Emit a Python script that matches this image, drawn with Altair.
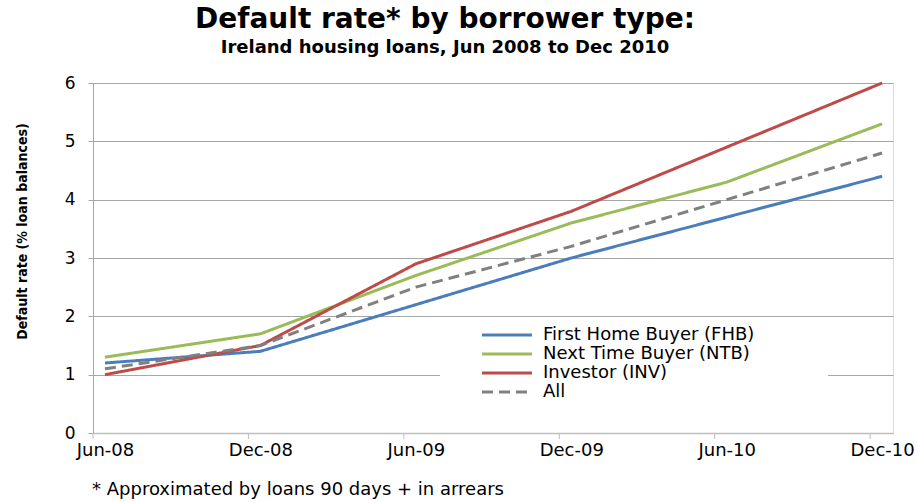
import altair as alt
import pandas as pd

periods = ["Jun-08", "Dec-08", "Jun-09", "Dec-09", "Jun-10", "Dec-10"]
fhb = [1.2, 1.4, 2.2, 3.0, 3.7, 4.4]
ntb = [1.3, 1.7, 2.7, 3.6, 4.3, 5.3]
inv = [1.0, 1.5, 2.9, 3.8, 4.9, 6.0]
all_loans = [1.1, 1.5, 2.5, 3.2, 4.0, 4.8]
series = ["First Home Buyer (FHB)", "Next Time Buyer (NTB)", "Investor (INV)", "All"]
colors = ["#4A7EBB", "#9BBB59", "#BE4B48", "#808080"]
dash_patterns = [[1, 0], [1, 0], [1, 0], [11, 6]]
y_ticks = [0, 1, 2, 3, 4, 5, 6]

rows = []
for name, vals in zip(series, [fhb, ntb, inv, all_loans]):
    for i, v in enumerate(vals):
        rows.append({"series": name, "idx": i, "period": periods[i], "rate": v})
df = pd.DataFrame(rows)

tick_df = pd.DataFrame({"pos": [i - 0.077 for i in range(len(periods))]})
legend_df = pd.DataFrame({"series": series, "order": list(range(len(series)))})
box_df = pd.DataFrame({"a": [0]})

label_expr = "[" + ",".join(f"'{p}'" for p in periods) + "][datum.value]"
FONT = "DejaVu Sans"

x_scale = alt.Scale(domain=[-0.077, 5.07], nice=False, zero=False)
color_scale = alt.Scale(domain=series, range=colors)
dash_scale = alt.Scale(domain=series, range=dash_patterns)
legend_y = alt.Y("order:Q", axis=None, scale=alt.Scale(domain=[0, 3], range=[252, 309], nice=False, zero=False))

box = alt.Chart(box_df).mark_rect(fill="white").encode(
    x=alt.value(347), x2=alt.value(735), y=alt.value(239), y2=alt.value(342)
)

lines = alt.Chart(df).mark_line(strokeWidth=3).encode(
    x=alt.X(
        "idx:Q",
        scale=x_scale,
        axis=alt.Axis(
            values=list(range(len(periods))),
            labelExpr=label_expr,
            ticks=False,
            grid=False,
            domainColor="#bfbfbf",
            domainWidth=1.5,
            labelFont=FONT,
            labelFontSize=18,
            labelColor="black",
            labelPadding=8,
            title=None,
        ),
    ),
    y=alt.Y(
        "rate:Q",
        scale=alt.Scale(domain=[0, 6], nice=False),
        axis=alt.Axis(
            values=y_ticks,
            format="d",
            grid=True,
            gridColor="#a6a6a6",
            domainColor="#a6a6a6",
            tickColor="#a6a6a6",
            tickSize=5,
            labelPadding=13,
            labelFont=FONT,
            labelFontSize=17,
            labelColor="black",
            title="Default rate  (% loan balances)",
            titleFont="DejaVu Sans Condensed, Liberation Sans, sans-serif",
            titleFontSize=14,
            titleFontWeight="bold",
            titleColor="black",
            titleAngle=270,
            titleX=-71,
            titleY=148,
            titleAlign="center",
            titleBaseline="middle",
        ),
    ),
    color=alt.Color("series:N", scale=color_scale, legend=None),
    strokeDash=alt.StrokeDash("series:N", scale=dash_scale, legend=None),
)

ticks = alt.Chart(tick_df).mark_rule(color="#bfbfbf", strokeWidth=1).encode(
    x=alt.X("pos:Q", scale=x_scale, title=None),
    y=alt.value(350),
    y2=alt.value(356),
)

legend_rules = alt.Chart(legend_df).mark_rule(strokeWidth=3).encode(
    x=alt.value(389),
    x2=alt.value(439),
    y=legend_y,
    color=alt.Color("series:N", scale=color_scale, legend=None),
    strokeDash=alt.StrokeDash("series:N", scale=dash_scale, legend=None),
)

legend_text = alt.Chart(legend_df).mark_text(
    align="left", baseline="middle", font=FONT, fontSize=18, color="black"
).encode(x=alt.value(450), y=legend_y, text="series:N")

footnote = alt.Chart(box_df).mark_text(
    align="left", baseline="alphabetic", font=FONT, fontSize=18, color="black"
).encode(x=alt.value(-1), y=alt.value(412), text=alt.value("* Approximated by loans 90 days + in arrears"))

chart = (
    alt.layer(box, lines, ticks, legend_rules, legend_text, footnote)
    .resolve_scale(y="independent")
    .properties(
        width=800,
        height=350,
        padding={"left": 93, "top": 83, "right": 25, "bottom": 69},
        autosize=alt.AutoSizeParams(type="none"),
        title=alt.TitleParams(
            text="Default rate* by borrower type:",
            subtitle="Ireland housing loans, Jun 2008 to Dec 2010",
            font=FONT,
            fontSize=28,
            fontWeight="bold",
            color="black",
            subtitleFont=FONT,
            subtitleFontSize=18,
            subtitleFontWeight="bold",
            subtitleColor="black",
            anchor="middle",
            frame="group",
            dx=-48,
            offset=17,
            subtitlePadding=5,
        ),
    )
    .configure_view(stroke=None)
    .configure(background="white")
)

chart.save("out.html", embed_options={"renderer": "svg", "actions": False})
